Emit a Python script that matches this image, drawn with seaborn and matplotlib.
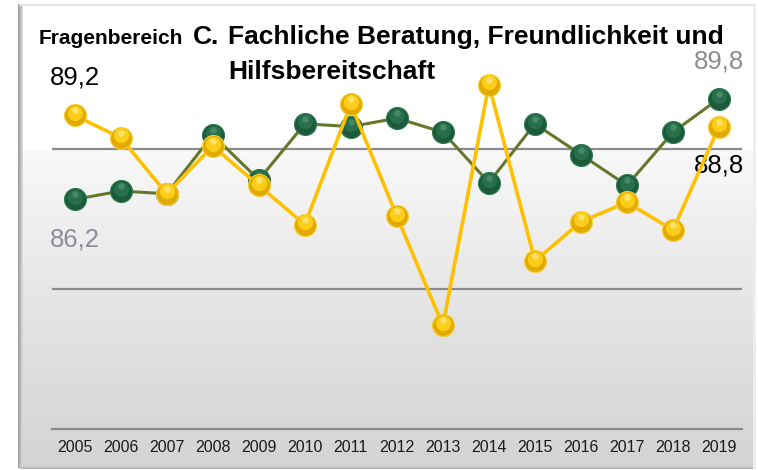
import numpy as np
import pandas as pd
from matplotlib import pyplot as plt
import matplotlib.transforms as mtransforms
import seaborn as sns

# Werte
years = [2005, 2006, 2007, 2008, 2009, 2010, 2011, 2012, 2013, 2014, 2015, 2016, 2017, 2018, 2019]
green_vals = [86.2, 86.5, 86.4, 88.5, 86.9, 88.9, 88.8, 89.1, 88.6, 86.8, 88.9, 87.8, 86.7, 88.6, 89.8]
gold_vals = [89.2, 88.4, 86.4, 88.1, 86.7, 85.3, 89.6, 85.6, 81.7, 90.3, 84.0, 85.4, 86.1, 85.1, 88.8]
grid_vals = [83, 88]
title_small = "Fragenbereich"
title_c = "C."
title_line1 = "Fachliche Beratung, Freundlichkeit und"
title_line2 = "Hilfsbereitschaft"

df_green = pd.DataFrame({"Jahr": years, "Wert": green_vals})
df_gold = pd.DataFrame({"Jahr": years, "Wert": gold_vals})

sns.set_theme(style="white")
plt.rcParams["font.family"] = ["Liberation Sans", "DejaVu Sans"]

W, H = 758, 470
fig = plt.figure(figsize=(W / 100, H / 100), dpi=100)

# background card with grey gradient
bg = fig.add_axes([0, 0, 1, 1])
bg.set_xlim(0, W)
bg.set_ylim(H, 0)
bg.axis("off")
ys = np.arange(0, 470)
shade = np.interp(ys, [0, 147, 149, 287, 466], [1.0, 1.0, 0.975, 0.905, 0.83])
grad = np.repeat(shade[:, None], 3, axis=1)[:, None, :]
bg.imshow(grad, extent=(20, 753, 468, 4), aspect="auto", zorder=1)
bg.imshow(np.linspace(0.62, 0.85, 5)[None, :, None].repeat(3, axis=2),
          extent=(18, 23, 468, 4), aspect="auto", zorder=2)
bg.imshow(np.linspace(0.83, 0.72, 4)[:, None, None].repeat(3, axis=2),
          extent=(20, 753, 469, 465), aspect="auto", zorder=2)
bg.plot([20, 753], [4.5, 4.5], color="#e6e6e6", lw=1.5, zorder=3)
bg.plot([753.5, 753.5], [4, 468], color="#ececec", lw=2, zorder=3)

# plot area
ax = fig.add_axes([51.7 / W, (H - 429) / H, (742 - 51.7) / W, 406 / H])
ax.patch.set_alpha(0)

sns.lineplot(data=df_green, x="Jahr", y="Wert", color="#66772c", lw=2.2, ax=ax, zorder=3)
sns.scatterplot(data=df_green, x="Jahr", y="Wert", color="#1c5a39", s=250,
                edgecolor="#2e7a52", linewidth=0.8, ax=ax, zorder=4)
sns.lineplot(data=df_gold, x="Jahr", y="Wert", color="#ffc000", lw=2.6, ax=ax, zorder=5)
sns.scatterplot(data=df_gold, x="Jahr", y="Wert", color="#e2aa00", s=250,
                edgecolor="#f5cf3a", linewidth=0.8, ax=ax, zorder=6)

# glanzlichter
hi1 = mtransforms.offset_copy(ax.transData, fig=fig, x=0, y=2.5, units="dots")
hi2 = mtransforms.offset_copy(ax.transData, fig=fig, x=0, y=5, units="dots")
ax.scatter(years, green_vals, s=120, color="#2a7650", alpha=0.8, lw=0, transform=hi1, zorder=4.1)
ax.scatter(years, green_vals, s=22, color="#6fa88a", alpha=0.45, lw=0, transform=hi2, zorder=4.2)
ax.scatter(years, gold_vals, s=120, color="#ffd21c", alpha=0.9, lw=0, transform=hi1, zorder=6.1)
ax.scatter(years, gold_vals, s=22, color="#fff0a0", alpha=0.6, lw=0, transform=hi2, zorder=6.2)

ax.set_xlim(years[0] - 0.5, years[-1] + 0.5)
ax.set_ylim(78, 92.5)
ax.set_yticks(grid_vals)
ax.yaxis.grid(True, color="#8a8a8a", lw=1.6)
ax.set_axisbelow(True)
ax.tick_params(axis="y", left=False, labelleft=False)
ax.set_xticks(years)
ax.set_xticklabels([str(y) for y in years], fontsize=11.5, color="#1a1a1a")
ax.set_xticks(np.append(np.array(years) - 0.5, years[-1] + 0.5), minor=True)
ax.tick_params(axis="x", which="major", length=0, pad=8)
ax.tick_params(axis="x", which="minor", length=4, width=1.2, color="#8a8a8a", direction="out")
ax.set_xlabel("")
ax.set_ylabel("")
for s in ["top", "left", "right"]:
    ax.spines[s].set_visible(False)
ax.spines["bottom"].set_color("#8a8a8a")
ax.spines["bottom"].set_linewidth(1.6)

# wertbeschriftungen
def fmt(v):
    return f"{v:.1f}".replace(".", ",")

ax.annotate(fmt(gold_vals[0]), xy=(years[0], gold_vals[0]), xytext=(0, 38),
            textcoords="offset pixels", ha="center", va="center", fontsize=18.5, color="black")
ax.annotate(fmt(green_vals[0]), xy=(years[0], green_vals[0]), xytext=(0, -40),
            textcoords="offset pixels", ha="center", va="center", fontsize=18.5, color="#8b8e98")
ax.annotate(fmt(green_vals[-1]), xy=(years[-1], green_vals[-1]), xytext=(0, 37),
            textcoords="offset pixels", ha="center", va="center", fontsize=18.5, color="#8c8c8c")
ax.annotate(fmt(gold_vals[-1]), xy=(years[-1], gold_vals[-1]), xytext=(0, -39),
            textcoords="offset pixels", ha="center", va="center", fontsize=18.5, color="black")

# titel
fig.text(39 / W, 1 - 44 / H, title_small, fontsize=15, fontweight="bold", va="baseline", color="black")
fig.text(193 / W, 1 - 44 / H, title_c, fontsize=19, fontweight="bold", va="baseline", color="black")
fig.text(228 / W, 1 - 44 / H, title_line1, fontsize=19, fontweight="bold", va="baseline", color="black")
fig.text(228 / W, 1 - 79 / H, title_line2, fontsize=19, fontweight="bold", va="baseline", color="black")

fig.savefig("out.png", dpi=100)
